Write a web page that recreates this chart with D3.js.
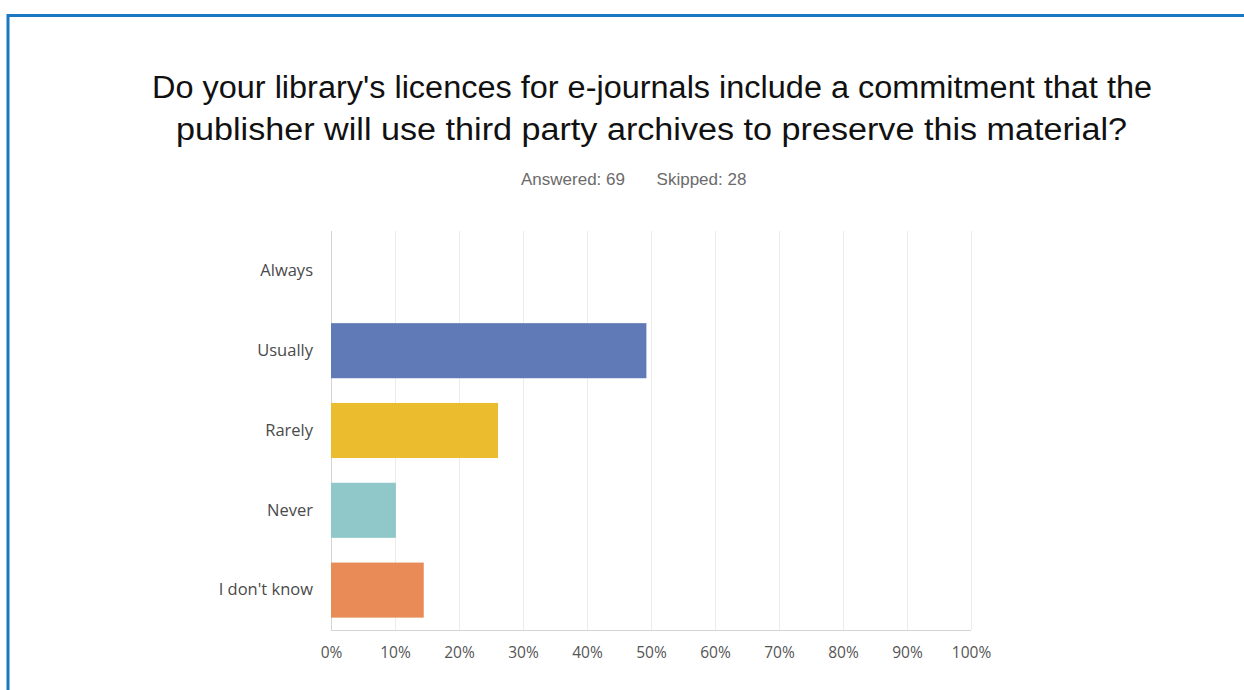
<!DOCTYPE html>
<html>
<head>
<meta charset="utf-8">
<script src="https://cdn.jsdelivr.net/npm/d3@7"></script>
<style>
  html, body { margin: 0; padding: 0; background: #fff; }
  svg { display: block; }
</style>
</head>
<body>
<svg id="chart" width="1244" height="690"></svg>
<script>
// Survey responses (share of 69 respondents)
const categories = ["Always", "Usually", "Rarely", "Never", "I don't know"];
const shares = [0, 0.4928, 0.2609, 0.1014, 0.1449];
const barColors = ["#5f7ab6", "#5f7ab6", "#ebbd2e", "#90c8c9", "#e88b56"];
const tickValues = [0, 0.1, 0.2, 0.3, 0.4, 0.5, 0.6, 0.7, 0.8, 0.9, 1.0];
const titleLines = [
  "Do your library's licences for e-journals include a commitment that the",
  "publisher will use third party archives to preserve this material?"
];
const subtitle = ["Answered: 69", "Skipped: 28"];

const svg = d3.select("#chart");

// Frame
svg.append("path")
  .attr("d", "M8,700 L8,15.5 L1250,15.5")
  .attr("fill", "none")
  .attr("stroke", "#1a78c2")
  .attr("stroke-width", 3);

// Title (two centred lines)
const titleWidths = [1000, 951];
svg.append("g")
  .selectAll("text")
  .data(titleLines)
  .join("text")
  .attr("x", (d, i) => i === 0 ? 652 : 651.5)
  .attr("y", (d, i) => 98 + i * 42)
  .attr("text-anchor", "middle")
  .attr("font-family", "Liberation Sans, Arial, sans-serif")
  .attr("font-size", 31)
  .attr("fill", "#111")
  .attr("textLength", (d, i) => titleWidths[i])
  .attr("lengthAdjust", "spacingAndGlyphs")
  .text(d => d);

// Answered / skipped
svg.append("g")
  .selectAll("text")
  .data(subtitle)
  .join("text")
  .attr("x", (d, i) => i === 0 ? 573 : 701.5)
  .attr("y", 185)
  .attr("text-anchor", "middle")
  .attr("font-family", "Liberation Sans, Arial, sans-serif")
  .attr("font-size", 17)
  .attr("fill", "#6b6b6b")
  .text(d => d);

// Plot area
const plotLeft = 331, plotRight = 971, plotTop = 231, plotBottom = 630;

const x = d3.scaleLinear().domain([0, 1]).range([plotLeft, plotRight]);
const y = d3.scaleBand().domain(categories).range([plotTop, plotBottom]).paddingInner(0.31).paddingOuter(0.155);

// Grid lines
svg.append("g")
  .selectAll("line")
  .data(tickValues)
  .join("line")
  .attr("x1", d => Math.round(x(d)) + 0.5)
  .attr("x2", d => Math.round(x(d)) + 0.5)
  .attr("y1", plotTop).attr("y2", plotBottom)
  .attr("stroke", d => d === 0 ? "#d4d4d4" : "#ececec")
  .attr("stroke-width", 1);

// Bars
svg.append("g")
  .selectAll("rect")
  .data(categories)
  .join("rect")
  .attr("x", x(0))
  .attr("y", d => y(d))
  .attr("width", (d, i) => x(shares[i]) - x(0))
  .attr("height", y.bandwidth())
  .attr("fill", (d, i) => barColors[i]);

// Baseline
svg.append("line")
  .attr("x1", plotLeft).attr("x2", plotRight)
  .attr("y1", plotBottom + 0.5).attr("y2", plotBottom + 0.5)
  .attr("stroke", "#d4d4d4");

// X axis labels
const xAxis = d3.axisBottom(x)
  .tickValues(tickValues)
  .tickFormat(d => Math.round(d * 100) + "%")
  .tickSize(0)
  .tickPadding(17);
const gx = svg.append("g").attr("transform", `translate(0,${plotBottom})`).call(xAxis);
gx.select(".domain").remove();
gx.selectAll("text")
  .attr("font-family", "Open Sans, sans-serif")
  .attr("font-size", 15.5)
  .attr("fill", "#555");

// Y axis labels
const yAxis = d3.axisLeft(y).tickSize(0).tickPadding(18);
const gy = svg.append("g").attr("transform", `translate(${plotLeft},0)`).call(yAxis);
gy.select(".domain").remove();
gy.selectAll("text")
  .attr("font-family", "Open Sans, sans-serif")
  .attr("font-size", 16.5)
  .attr("fill", "#4a4a4a");
</script>
</body>
</html>
